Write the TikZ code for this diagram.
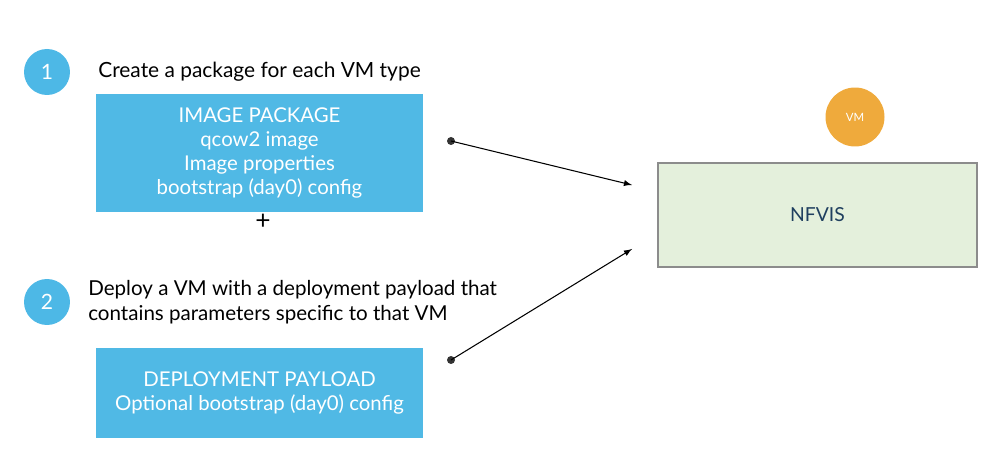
\documentclass[tikz,border=0pt]{standalone}
\usepackage{fontspec}
\setmainfont{Lato}
\usepackage{tikz}
\usepackage{xcolor}
\definecolor{stepcol}{HTML}{4DB8E6}
\definecolor{boxcol}{HTML}{50B9E5}
\definecolor{hostcol}{HTML}{E4F0DC}
\definecolor{hostline}{HTML}{8C8C8C}
\definecolor{hosttext}{HTML}{1F3F5F}
\definecolor{vmcol}{HTML}{EFAA3C}

\begin{document}
\begin{tikzpicture}[x=0.02cm, y=-0.02cm]
		\useasboundingbox (0, 0) rectangle (1000, 465);
		\coordinate (stepone) at (47, 72);
		\coordinate (steptwo) at (47, 302);
		\coordinate (imgpkg) at (259.5, 153);
		\coordinate (payload) at (259.5, 393);
		\coordinate (host) at (817.5, 215);
		\coordinate (vmspot) at (855, 117);
		\coordinate (imgend) at (632, 185);
		\coordinate (payloadend) at (632, 249);
		\node (one) at (stepone) [shape=circle, fill=stepcol, text=white, minimum size=0.92cm, inner sep=0pt, font=\fontsize{12}{14}\selectfont] {1};
		\node (two) at (steptwo) [shape=circle, fill=stepcol, text=white, minimum size=0.92cm, inner sep=0pt, font=\fontsize{12}{14}\selectfont] {2};
		\node (onetext) at (98, 72) [anchor=west, inner sep=0pt, font=\fontsize{11.9}{14}\selectfont] {Create a package for each VM type};
		\node (twotext) at (88, 302) [anchor=west, align=left, inner sep=0pt, font=\fontsize{11.7}{14}\selectfont] {Deploy a VM with a deployment payload that\\contains parameters specific to that VM};
		\node (img) at (imgpkg) [shape=rectangle, fill=boxcol, text=white, minimum width=6.54cm, minimum height=2.36cm, align=center, font=\fontsize{11.6}{13.6}\selectfont] {IMAGE PACKAGE\\qcow2 image\\Image properties\\bootstrap (day0) config};
		\node (plus) at (263, 222) [inner sep=0pt, font=\fontsize{15}{15}\selectfont] {+};
		\node (pay) at (payload) [shape=rectangle, fill=boxcol, text=white, minimum width=6.54cm, minimum height=1.8cm, align=center, font=\fontsize{11.6}{13.6}\selectfont] {DEPLOYMENT PAYLOAD\\Optional bootstrap (day0) config};
		\node (nfvis) at (host) [shape=rectangle, draw=hostline, line width=1.4pt, fill=hostcol, text=hosttext, minimum width=6.38cm, minimum height=2.08cm, font=\fontsize{11}{13}\selectfont] {NFVIS};
		\node (vm) at (vmspot) [shape=circle, fill=vmcol, text=white, minimum size=1.18cm, inner sep=0pt, font=\fontsize{6.5}{8}\selectfont] {VM};
		\node (imgdot) at (451, 141) [shape=circle, fill=black!80, inner sep=0pt, minimum size=0.16cm] {};
		\node (paydot) at (451, 360) [shape=circle, fill=black!80, inner sep=0pt, minimum size=0.16cm] {};
		\draw[semithick, -latex] (imgdot.center) -- (imgend);
		\draw[semithick, -latex] (paydot.center) -- (payloadend);
	\end{tikzpicture}
\end{document}
